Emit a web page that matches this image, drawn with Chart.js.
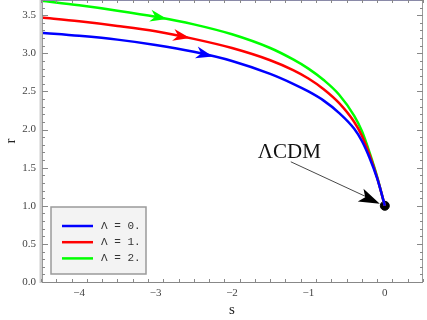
<!DOCTYPE html>
<html>
<head>
<meta charset="utf-8">
<script src="https://cdn.jsdelivr.net/npm/chart.js@4"></script>
<style>
  body { margin: 0; background: #fff; }
  #grafica { display: block; }
</style>
</head>
<body>
<canvas id="grafica" width="427" height="320"></canvas>
<script>
// s values shared by the three trajectories
var sVals = [-4.5, -4, -3.5, -3, -2.5, -2, -1.5, -1.2, -1, -0.8, -0.6, -0.4, -0.3, -0.2, -0.1, -0.05, 0];
var rLambda0 = [3.27, 3.23, 3.18, 3.11, 3.02, 2.90, 2.73, 2.60, 2.50, 2.38, 2.22, 2.01, 1.85, 1.63, 1.36, 1.19, 1.0];
var rLambda1 = [3.47, 3.42, 3.36, 3.29, 3.19, 3.07, 2.91, 2.78, 2.67, 2.53, 2.35, 2.10, 1.92, 1.67, 1.37, 1.19, 1.0];
var rLambda2 = [3.69, 3.63, 3.56, 3.48, 3.38, 3.25, 3.07, 2.92, 2.80, 2.65, 2.46, 2.18, 1.98, 1.70, 1.38, 1.19, 1.0];
var etiquetas = ['\u039b = 0.', '\u039b = 1.', '\u039b = 2.'];
var colores = ['#0000ff', '#ff0000', '#00ff00'];
var flechaS = [-2.25, -2.55, -2.85];   // where the direction arrows sit on each curve
var puntoLCDM = [0, 1];
var xTicks = [-4, -3, -2, -1, 0];
var yTicks = [0, 0.5, 1, 1.5, 2, 2.5, 3, 3.5];

function unir(xs, ys) {
    var pts = [];
    for (let i = 0; i < xs.length; i++) pts.push({x: xs[i], y: ys[i]});
    return pts;
}

function interp(xs, ys, x) {
    for (let i = 0; i < xs.length - 1; i++) {
        if (x >= xs[i] && x <= xs[i + 1]) {
            var t = (x - xs[i]) / (xs[i + 1] - xs[i]);
            return ys[i] + t * (ys[i + 1] - ys[i]);
        }
    }
    return ys[ys.length - 1];
}

var series = [rLambda0, rLambda1, rLambda2];

var marco = {
    id: 'marco',
    afterDatasetsDraw: function(chart) {
        var ctx = chart.ctx, a = chart.chartArea;
        var sx = chart.scales.x, sy = chart.scales.y;
        ctx.save();

        // arrows along the curves
        for (let k = 0; k < series.length; k++) {
            var s1 = flechaS[k], s0 = s1 - 0.06;
            var x1 = sx.getPixelForValue(s1), y1 = sy.getPixelForValue(interp(sVals, series[k], s1));
            var x0 = sx.getPixelForValue(s0), y0 = sy.getPixelForValue(interp(sVals, series[k], s0));
            var ang = Math.atan2(y1 - y0, x1 - x0);
            ctx.save();
            ctx.translate(x1, y1);
            ctx.rotate(ang);
            ctx.fillStyle = colores[k];
            ctx.beginPath();
            ctx.moveTo(0, 0);
            ctx.lineTo(-17, -6);
            ctx.lineTo(-12, 0);
            ctx.lineTo(-17, 6);
            ctx.closePath();
            ctx.fill();
            ctx.restore();
        }

        // frame
        ctx.lineWidth = 1;
        ctx.strokeStyle = '#8a8aa8';
        ctx.beginPath(); ctx.moveTo(a.left, a.top + 0.5); ctx.lineTo(a.right, a.top + 0.5); ctx.stroke();
        ctx.strokeStyle = '#999';
        ctx.beginPath(); ctx.moveTo(a.right - 0.5, a.top); ctx.lineTo(a.right - 0.5, a.bottom); ctx.stroke();
        ctx.strokeStyle = '#888';
        ctx.beginPath(); ctx.moveTo(a.left, a.bottom + 0.5); ctx.lineTo(a.right, a.bottom + 0.5); ctx.stroke();
        ctx.strokeStyle = '#cfcfcf';
        ctx.lineWidth = 3;
        ctx.beginPath(); ctx.moveTo(a.left, a.top); ctx.lineTo(a.left, a.bottom + 1); ctx.stroke();
        ctx.lineWidth = 1;
        ctx.strokeStyle = '#999';
        ctx.beginPath(); ctx.moveTo(a.left + 1.5, a.top); ctx.lineTo(a.left + 1.5, a.bottom + 1); ctx.stroke();

        // frame ticks, inside
        ctx.strokeStyle = '#888';
        ctx.beginPath();
        for (let i = -45; i <= 5; i += 2) {
            var v = i / 10;
            var px = Math.round(sx.getPixelForValue(v)) + 0.5;
            var len = (i % 10 === 0) ? 6 : 3;
            ctx.moveTo(px, a.bottom); ctx.lineTo(px, a.bottom - len);
            ctx.moveTo(px, a.top); ctx.lineTo(px, a.top + len);
        }
        for (let i = 0; i <= 37; i++) {
            var py = Math.round(sy.getPixelForValue(i / 10)) + 0.5;
            var len2 = (i % 5 === 0) ? 6 : 3;
            ctx.moveTo(a.left + 1, py); ctx.lineTo(a.left + 1 + len2, py);
            ctx.moveTo(a.right, py); ctx.lineTo(a.right - len2, py);
        }
        ctx.stroke();

        // axis titles
        ctx.fillStyle = '#222';
        ctx.font = '15px "Liberation Serif", serif';
        ctx.textAlign = 'center';
        ctx.textBaseline = 'middle';
        ctx.fillText('s', (a.left + a.right) / 2, 310);
        ctx.save();
        ctx.translate(11, 141);
        ctx.rotate(-Math.PI / 2);
        ctx.fillText('r', 0, 0);
        ctx.restore();

        // \u039bCDM annotation
        var dx = sx.getPixelForValue(puntoLCDM[0]), dy = sy.getPixelForValue(puntoLCDM[1]);
        ctx.strokeStyle = '#333';
        ctx.lineWidth = 0.9;
        ctx.beginPath(); ctx.moveTo(dx - 94, dy - 44); ctx.lineTo(dx - 12, dy - 6); ctx.stroke();
        var ang2 = Math.atan2(40, 89);
        ctx.save();
        ctx.translate(dx - 5, dy - 2);
        ctx.rotate(ang2);
        ctx.fillStyle = '#000';
        ctx.beginPath();
        ctx.moveTo(0, 0); ctx.lineTo(-21, -7); ctx.lineTo(-16, 0); ctx.lineTo(-21, 7);
        ctx.closePath(); ctx.fill();
        ctx.restore();
        ctx.fillStyle = '#111';
        ctx.font = '21px "Liberation Serif", serif';
        ctx.textAlign = 'left';
        ctx.textBaseline = 'alphabetic';
        ctx.fillText('\u039bCDM', dx - 127, dy - 48);

        // legend box
        var lx = 51, ly = 207, lw = 95, lh = 67;
        ctx.fillStyle = '#f3f3f3';
        ctx.fillRect(lx, ly, lw, lh);
        ctx.strokeStyle = '#9a9a9a';
        ctx.lineWidth = 1.5;
        ctx.strokeRect(lx, ly, lw, lh);
        ctx.font = '11px "Liberation Mono", monospace';
        ctx.textBaseline = 'middle';
        for (let k = 0; k < etiquetas.length; k++) {
            var yy = 226 + k * 16.2;
            ctx.strokeStyle = colores[k];
            ctx.lineWidth = 2.5;
            ctx.beginPath(); ctx.moveTo(62, yy); ctx.lineTo(93, yy); ctx.stroke();
            ctx.fillStyle = '#333';
            ctx.fillText(etiquetas[k], 101, yy);
        }
        ctx.restore();
    }
};

function sinRelleno(s) {
    s.paddingTop = 0; s.paddingBottom = 0; s.paddingLeft = 0; s.paddingRight = 0;
}

var ctx = document.getElementById('grafica').getContext('2d');
var grafica = new Chart(ctx, {
    type: 'scatter',
    data: {
        datasets: [
            { label: etiquetas[0], data: unir(sVals, rLambda0), borderColor: colores[0] },
            { label: etiquetas[1], data: unir(sVals, rLambda1), borderColor: colores[1] },
            { label: etiquetas[2], data: unir(sVals, rLambda2), borderColor: colores[2] },
            { label: '\u039bCDM', data: [{x: puntoLCDM[0], y: puntoLCDM[1]}], showLine: false,
              pointRadius: 4.5, backgroundColor: '#000', borderColor: '#000' }
        ]
    },
    options: {
        responsive: false,
        animation: false,
        showLine: true,
        elements: {
            line: { borderWidth: 2.5, cubicInterpolationMode: 'monotone', fill: false },
            point: { radius: 0 }
        },
        layout: { autoPadding: false, padding: { top: 0, right: 4, left: 0, bottom: 0 } },
        plugins: { legend: { display: false }, tooltip: { enabled: false } },
        scales: {
            x: {
                type: 'linear', min: -4.5, max: 0.5,
                afterFit: function(s) { s.height = 38; sinRelleno(s); },
                afterBuildTicks: function(s) { s.ticks = xTicks.map(function(v) { return {value: v}; }); },
                grid: { display: false, drawTicks: false },
                border: { display: false },
                ticks: {
                    padding: 5, color: '#444',
                    font: { family: '"Liberation Serif", serif', size: 11 },
                    callback: function(v) { return v < 0 ? '\u2212' + Math.abs(v) : String(v); }
                }
            },
            y: {
                type: 'linear', min: 0, max: 3.7,
                afterFit: function(s) { s.width = 41; sinRelleno(s); },
                afterBuildTicks: function(s) { s.ticks = yTicks.map(function(v) { return {value: v}; }); },
                grid: { display: false, drawTicks: false },
                border: { display: false },
                ticks: {
                    padding: 5, color: '#444',
                    font: { family: '"Liberation Serif", serif', size: 11 },
                    callback: function(v) { return v.toFixed(1); }
                }
            }
        }
    },
    plugins: [marco]
});
</script>
</body>
</html>
